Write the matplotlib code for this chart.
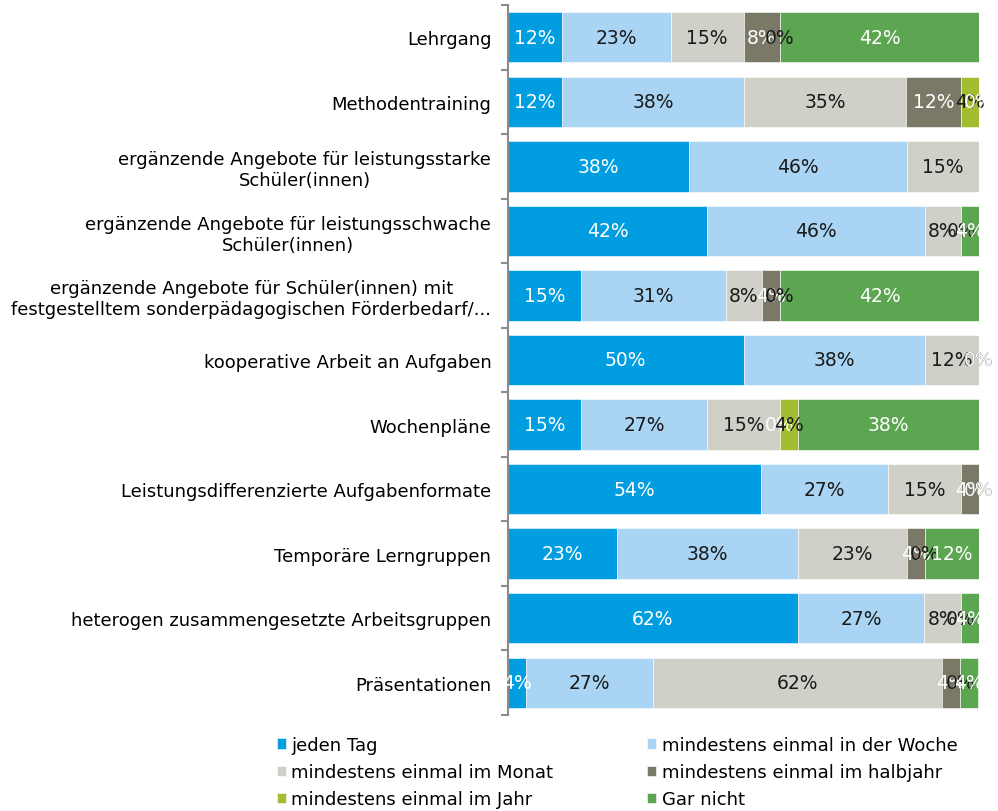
import matplotlib.pyplot as plt
import numpy as np

# categories (top to bottom)
categories = [
    "Lehrgang",
    "Methodentraining",
    "ergänzende Angebote für leistungsstarke\nSchüler(innen)",
    "ergänzende Angebote für leistungsschwache\nSchüler(innen)",
    "ergänzende Angebote für Schüler(innen) mit\nfestgestelltem sonderpädagogischen Förderbedarf/...",
    "kooperative Arbeit an Aufgaben",
    "Wochenpläne",
    "Leistungsdifferenzierte Aufgabenformate",
    "Temporäre Lerngruppen",
    "heterogen zusammengesetzte Arbeitsgruppen",
    "Präsentationen",
]

# share of answers in percent per category
jeden_tag = [11.5, 11.5, 38.5, 42.3, 15.4, 50.0, 15.4, 53.8, 23.1, 61.5, 3.8]
woche = [23.1, 38.5, 46.2, 46.2, 30.8, 38.5, 26.9, 26.9, 38.5, 26.9, 26.9]
monat = [15.4, 34.6, 15.4, 7.7, 7.7, 11.5, 15.4, 15.4, 23.1, 7.7, 61.5]
halbjahr = [7.7, 11.5, 0.0, 0.0, 3.8, 0.0, 0.0, 3.8, 3.8, 0.0, 3.8]
jahr = [0.0, 3.8, 0.0, 0.0, 0.0, 0.0, 3.8, 0.0, 0.0, 0.0, 0.0]
gar_nicht = [42.3, 0.0, 0.0, 3.8, 42.3, 0.0, 38.5, 0.0, 11.5, 3.8, 3.8]

series = [jeden_tag, woche, monat, halbjahr, jahr, gar_nicht]
names = ["jeden Tag", "mindestens einmal in der Woche", "mindestens einmal im Monat",
         "mindestens einmal im halbjahr", "mindestens einmal im Jahr", "Gar nicht"]
colors = ["#009EE0", "#A9D4F3", "#D0D0C8", "#7A7866", "#A3BD31", "#5DA651"]
text_colors = ["white", "#1a1a1a", "#1a1a1a", "white", "#1a1a1a", "white"]

fig = plt.figure(figsize=(9.98, 8.12), dpi=100)
ax = fig.add_axes([508 / 998, 1 - 716 / 812, 471 / 998, 710 / 812])

y = np.arange(len(categories))
left = np.zeros(len(categories))
containers = []
for vals, name, col, tcol in zip(series, names, colors, text_colors):
    bars = ax.barh(y, vals, left=left, height=0.78, color=col, label=name,
                   edgecolor="white", linewidth=0.4)
    ax.bar_label(bars, labels=[f"{v:.0f}%" for v in vals], label_type="center",
                 color=tcol, fontsize=13.5)
    containers.append(bars)
    left += np.array(vals)

ax.set_xlim(0, 100)
ax.set_ylim(len(categories) - 0.5, -0.5)
ax.set_yticks(y)
ax.set_yticklabels(categories, fontsize=13, multialignment="center")
ax.set_yticks(np.arange(-0.5, len(categories), 1), minor=True)
ax.tick_params(axis="y", which="major", length=0, pad=12)
ax.tick_params(axis="y", which="minor", length=5, color="#8c8c8c", width=1.5)
ax.xaxis.set_visible(False)
for s in ["top", "right", "bottom"]:
    ax.spines[s].set_visible(False)
ax.spines["left"].set_color("#8c8c8c")
ax.spines["left"].set_linewidth(1.5)

order = [0, 2, 4, 1, 3, 5]
fig.legend([containers[i] for i in order], [names[i] for i in order],
           loc="upper left", bbox_to_anchor=(268 / 998, 1 - 728 / 812), ncol=2,
           frameon=False, fontsize=13, handlelength=0.5, handleheight=0.5,
           handletextpad=0.3, columnspacing=5.2, labelspacing=0.5, borderpad=0)

fig.savefig("out.png", dpi=100)
